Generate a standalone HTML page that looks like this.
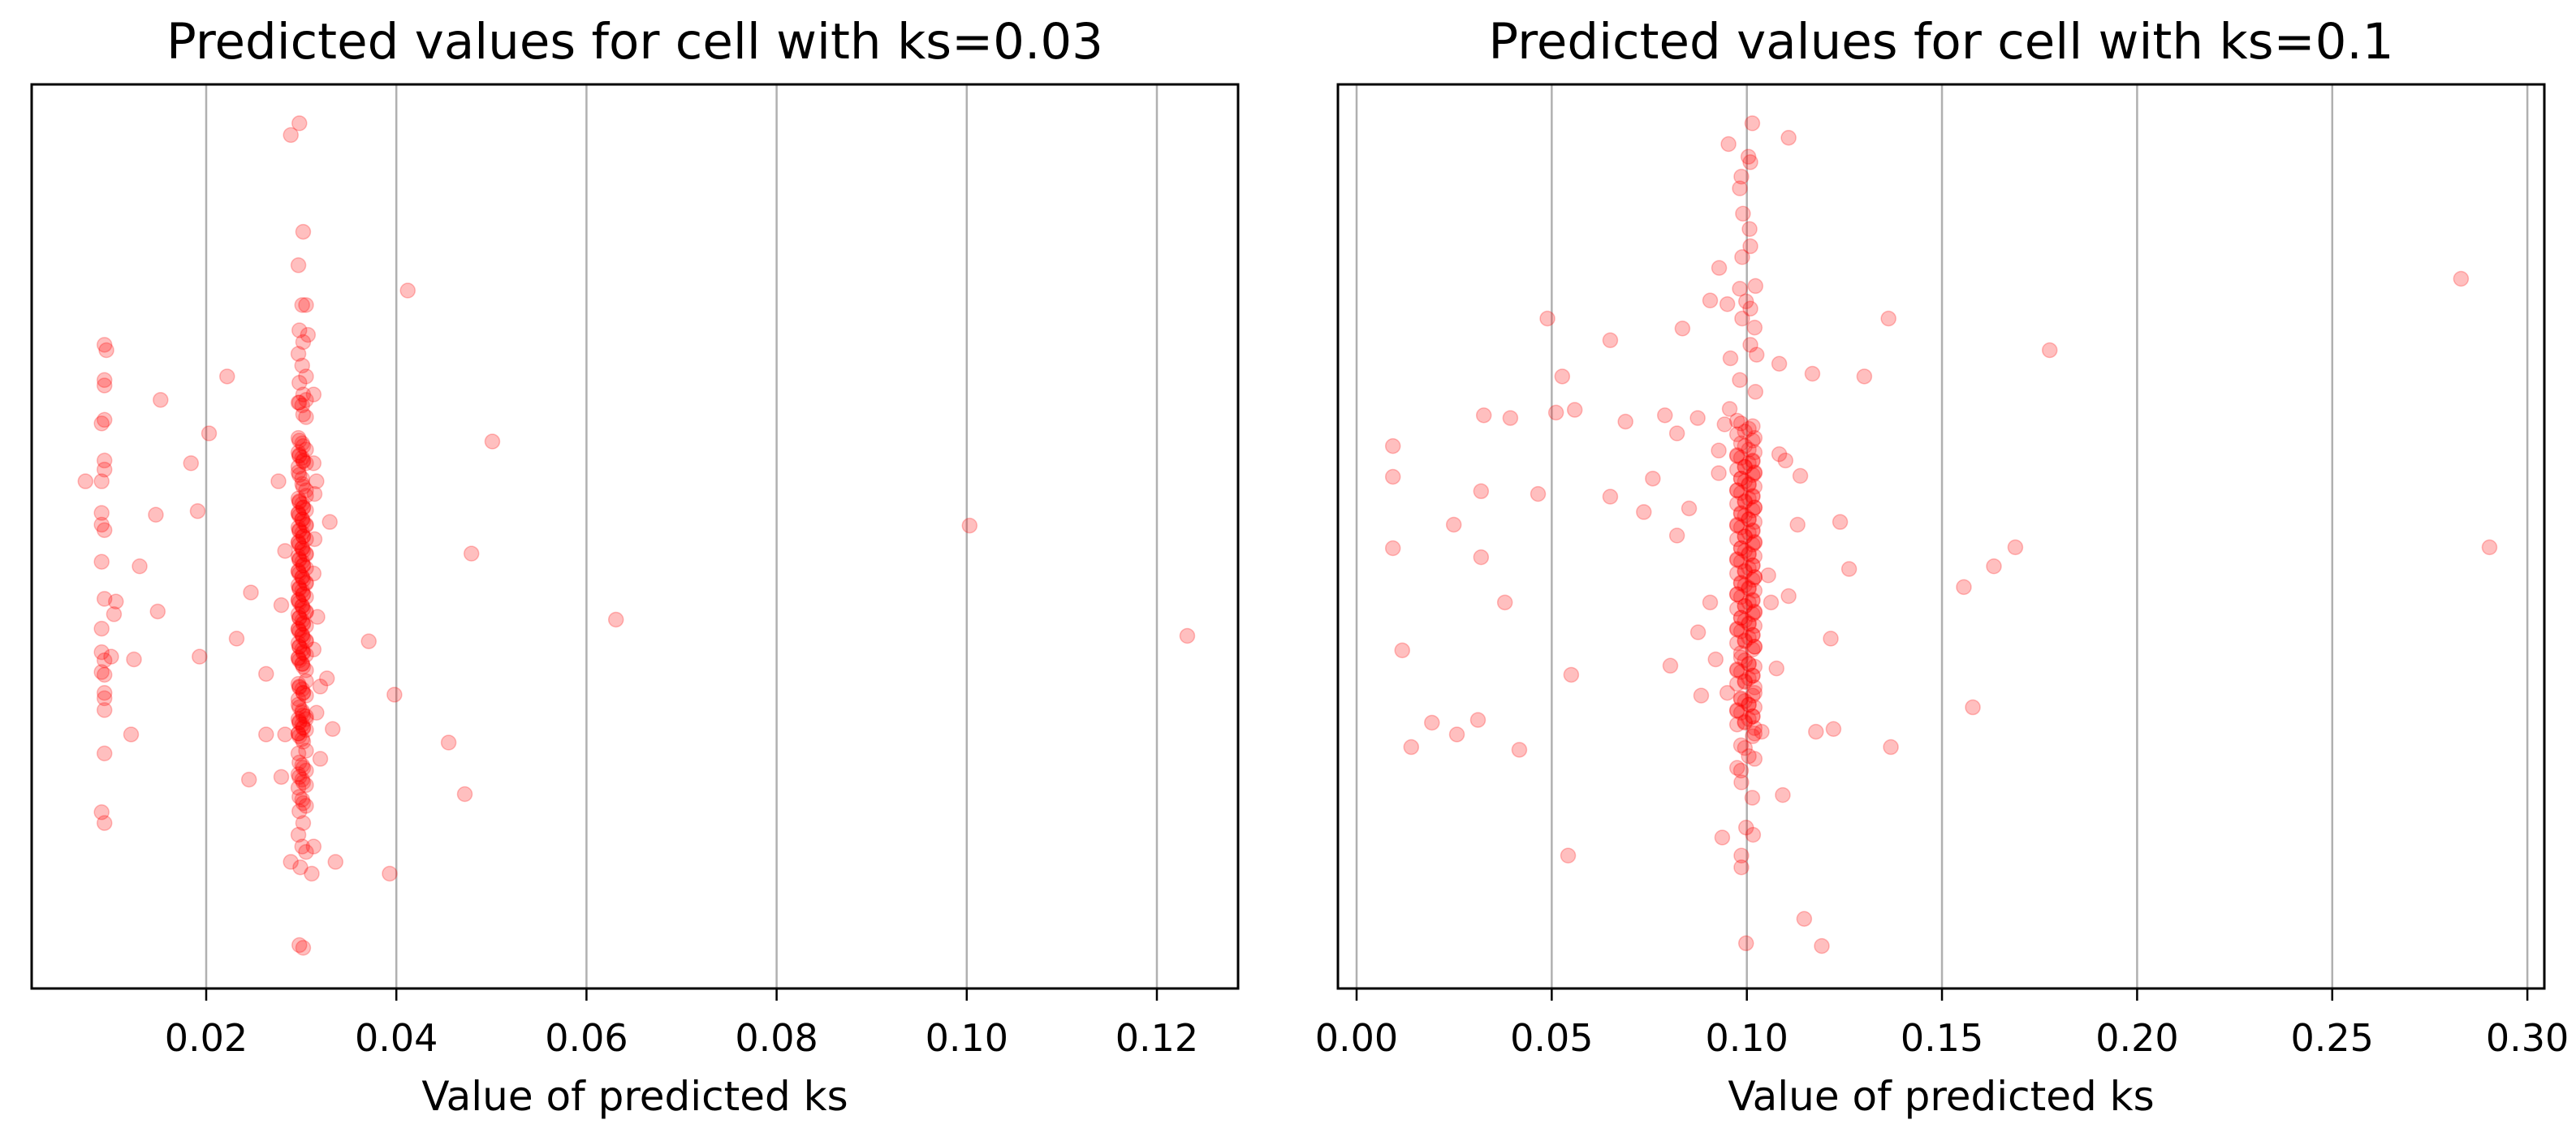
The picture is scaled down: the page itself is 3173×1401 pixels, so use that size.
<!DOCTYPE html>
<html><head><meta charset="utf-8"><style>
html,body{margin:0;padding:0;background:#fff}
svg{display:block}
text{font-family:"DejaVu Sans","Liberation Sans",sans-serif;fill:#000}
</style></head><body>
<svg id="fig" width="3173" height="1401" viewBox="0 0 3173 1401" xmlns="http://www.w3.org/2000/svg"></svg>
<script>
const leftTicks=[0.02,0.04,0.06,0.08,0.10,0.12];
const leftTickLabels=["0.02","0.04","0.06","0.08","0.10","0.12"];
const rightTicks=[0,0.05,0.10,0.15,0.20,0.25,0.30];
const rightTickLabels=["0.00","0.05","0.10","0.15","0.20","0.25","0.30"];
const leftX=[0.0093,0.0095,0.0093,0.0093,0.0090,0.0093,0.0093,0.0093,0.0073,0.0090,0.0090,0.0090,0.0093,0.0090,0.0093,0.0105,0.0103,0.0090,0.0090,0.0100,0.0093,0.0090,0.0093,0.0093,0.0093,0.0093,0.0093,0.0090,0.0093,
0.0152,0.0203,0.0184,0.0191,0.0147,0.0130,0.0149,0.0124,0.0193,0.0121,0.0222,0.0247,0.0232,0.0263,0.0263,0.0245,0.0371,0.0336,0.0276,0.0283,0.0279,0.0279,0.0283,0.0289,0.0330,0.0333,0.0327,0.0320,0.0320,0.0316,0.0313,0.0311,0.0289,0.0299,0.0307,0.0313,0.0316,0.0314,0.0314,0.0313,0.0317,0.0313,0.0313,
0.1003,0.1232,0.0631,0.0479,0.0501,0.0455,0.0472,0.0398,0.0412,0.0393];
const leftY=[0.712,0.706,0.673,0.667,0.625,0.629,0.584,0.574,0.561,0.561,0.526,0.513,0.507,0.472,0.431,0.428,0.414,0.398,0.372,0.367,0.363,0.350,0.347,0.327,0.321,0.308,0.260,0.195,0.183,
0.651,0.614,0.581,0.528,0.524,0.467,0.417,0.364,0.367,0.281,0.677,0.438,0.387,0.348,0.281,0.231,0.384,0.140,0.561,0.484,0.424,0.234,0.281,0.944,0.516,0.287,0.343,0.334,0.254,0.305,0.157,0.127,0.140,0.134,0.723,0.657,0.561,0.547,0.497,0.459,0.411,0.375,0.581,
0.512,0.390,0.408,0.481,0.605,0.272,0.215,0.325,0.772,0.127];
const leftColY=[0.957,0.837,0.800,0.756,0.756,0.728,0.715,0.702,0.689,0.677,0.670,0.657,0.648,0.645,0.632,0.606,0.600,0.593,0.587,0.581,0.568,0.555,0.542,0.536,0.529,0.523,0.516,0.510,0.504,0.497,0.491,0.484,0.478,0.472,0.465,0.459,0.452,0.446,0.440,0.433,0.427,0.420,0.414,0.407,0.401,0.395,0.388,0.382,0.375,0.369,0.363,0.356,0.337,0.331,0.324,0.311,0.302,0.298,0.292,0.286,0.279,0.273,0.260,0.247,0.241,0.234,0.228,0.222,0.209,0.202,0.196,0.183,0.170,0.157,0.151,0.048,0.045];
const leftColX=[0.0298,0.0302,0.0297,0.0301,0.0305];
const rightX=[0.1014,0.1107,0.0953,0.1004,0.1009,0.0986,0.0982,0.0990,0.1007,0.1009,0.0988,0.0929,0.1022,0.0982,0.0906,0.0950,0.0998,0.1009,0.0489,0.1363,0.0835,0.0988,0.1020,0.0650,0.1009,0.1025,0.0958,0.1083,0.1168,0.1301,0.0527,0.0982,0.1022,0.0326,0.0394,0.0511,0.0559,0.0689,0.0790,0.0874,0.0821,0.0956,0.0943,0.0093,0.0093,0.0319,0.0465,0.0759,0.0650,0.0736,0.0852,0.0821,0.0928,0.0928,0.1083,0.1099,0.1137,0.1130,0.1239,0.0249,0.0093,0.0319,0.1262,0.1055,0.0380,0.0906,0.1107,0.1062,0.0875,0.1215,0.0117,0.0550,0.0804,0.0920,0.1076,0.0883,0.0950,0.0193,0.0257,0.0311,0.0140,0.0417,0.1177,0.1222,0.1369,0.1038,0.0986,0.1014,0.1092,0.0998,0.1016,0.0937,0.0986,0.0986,0.0542,0.1147,0.1192,0.0998,0.1556,0.1579,
0.1633,0.1688,0.1776,0.2830,0.2903];
const rightY=[0.957,0.941,0.934,0.920,0.914,0.898,0.885,0.857,0.840,0.821,0.809,0.797,0.777,0.774,0.761,0.757,0.760,0.752,0.741,0.741,0.730,0.741,0.731,0.717,0.712,0.701,0.697,0.691,0.680,0.677,0.677,0.673,0.660,0.634,0.631,0.637,0.640,0.627,0.634,0.631,0.614,0.641,0.624,0.600,0.566,0.550,0.547,0.564,0.544,0.527,0.531,0.501,0.595,0.570,0.591,0.584,0.567,0.513,0.516,0.513,0.487,0.477,0.464,0.457,0.427,0.427,0.434,0.427,0.394,0.387,0.374,0.347,0.357,0.364,0.354,0.324,0.327,0.294,0.281,0.297,0.267,0.264,0.284,0.287,0.267,0.284,0.228,0.211,0.214,0.178,0.170,0.167,0.147,0.134,0.147,0.077,0.047,0.050,0.444,0.311,
0.467,0.488,0.706,0.785,0.488];
const rightColY=[0.625,0.619,0.613,0.606,0.600,0.593,0.587,0.581,0.574,0.568,0.561,0.555,0.548,0.542,0.536,0.529,0.523,0.516,0.510,0.504,0.497,0.491,0.484,0.478,0.472,0.465,0.459,0.452,0.446,0.440,0.433,0.427,0.420,0.414,0.407,0.401,0.395,0.388,0.382,0.375,0.363,0.356,0.350,0.343,0.337,0.324,0.318,0.311,0.305,0.298,0.292,0.279,0.266,0.254,0.241];
const rightColX=[0.0985,0.1005,0.0975,0.1015,0.0995,0.1020];

const NS="http://www.w3.org/2000/svg";
const svg=document.getElementById('fig');
function mk(tag,attrs,parent){const e=document.createElementNS(NS,tag);for(const k in attrs)e.setAttribute(k,attrs[k]);(parent||svg).appendChild(e);return e;}
const TOP=104,BOT=1218;
function yScale(v){return BOT-v*(BOT-TOP);}
function panel(name,x0,x1,xs,ticks,labels,title,px,py,colX,colY){
  const g=mk('g',{});
  
  
  ticks.forEach((t,i)=>{
    const x=xs(t);
    const gl=mk('line',{x1:x,x2:x,y1:TOP,y2:BOT,stroke:'#b0b0b0','stroke-width':2.5},g);
    
    
    const tk=mk('line',{x1:x,x2:x,y1:BOT,y2:BOT+15,stroke:'#000','stroke-width':2.5},g);
    
    
    const tl=mk('text',{x:x,y:1295,'text-anchor':'middle','font-size':46},g);
    tl.textContent=labels[i];
    
    
  });
  const pts=mk('g',{},g);
  
  
  function dot(xv,yv){
    const c=mk('circle',{cx:xs(xv),cy:yScale(yv),r:9,fill:'rgba(255,0,0,0.25)',stroke:'rgba(255,0,0,0.25)','stroke-width':1.5},pts);
    
    
  }
  px.forEach((v,i)=>dot(v,py[i]));
  colY.forEach((v,i)=>dot(colX[i%colX.length],v));
  colY.forEach((v,i)=>{ if(v>0.2&&v<0.65) dot(colX[(i+2)%colX.length],v+0.003); });
  colY.forEach((v,i)=>{ if(v>0.28&&v<0.6) dot(colX[(i+3)%colX.length],v-0.004); });
  const fr=mk('rect',{x:x0,y:TOP,width:x1-x0,height:BOT-TOP,fill:'none',stroke:'#000','stroke-width':3},g);
  
  
  const tt=mk('text',{x:(x0+x1)/2,y:72,'text-anchor':'middle','font-size':61},g);
  tt.textContent=title;
  
  
  const xl=mk('text',{x:(x0+x1)/2,y:1368,'text-anchor':'middle','font-size':50},g);
  xl.textContent='Value of predicted ks';
  
  
}
panel('left-panel',39,1525,v=>19.8+v*11710,leftTicks,leftTickLabels,'Predicted values for cell with ks=0.03',leftX,leftY,leftColX,leftColY);
panel('right-panel',1648,3134,v=>1671+v*4807,rightTicks,rightTickLabels,'Predicted values for cell with ks=0.1',rightX,rightY,rightColX,rightColY);
</script>
</body></html>
